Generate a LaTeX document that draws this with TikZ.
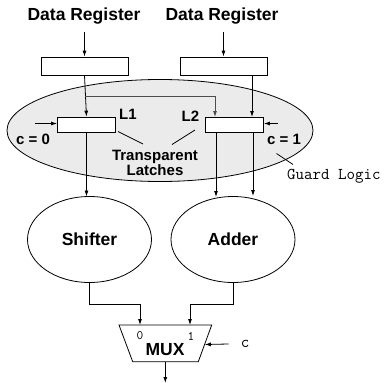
\documentclass[tikz,border=0pt]{standalone}
\usepackage{fontspec}
\setmainfont{Liberation Sans}
\usetikzlibrary{arrows.meta,shapes.geometric}

\tikzset{
  wire/.style={line width=0.8pt, -{Latex[length=6pt,width=4pt]}},
  plain/.style={line width=0.8pt},
  regbox/.style={draw, line width=0.8pt, fill=white, minimum width=87pt, minimum height=18pt, inner sep=0pt},
  latchbox/.style={draw, line width=0.8pt, fill=white, minimum width=58pt, minimum height=15pt, inner sep=0pt},
  unit/.style={draw, line width=0.8pt, ellipse, minimum width=124pt, minimum height=86pt, inner sep=0pt},
  bigtxt/.style={font=\fontsize{17.5}{20}\selectfont\bfseries, inner sep=0pt},
  midtxt/.style={font=\fontsize{15}{17}\selectfont\bfseries, inner sep=0pt},
  monotxt/.style={font=\ttfamily\fontsize{16.5}{18}\selectfont, inner sep=0pt},
  porttxt/.style={font=\ttfamily\fontsize{13}{13}\selectfont, inner sep=0pt},
}

\begin{document}
\begin{tikzpicture}[x=1pt,y=-1pt]
\useasboundingbox (0,0) rectangle (384,383);

% guard logic region
\node (guard) [draw, line width=0.8pt, fill=black!8, ellipse, minimum width=306pt, minimum height=102pt, inner sep=0pt] at (160,130.5) {};

% data registers
\node (dl) [bigtxt] at (84,16) {Data Register};
\node (dr) [bigtxt] at (222,16) {Data Register};
\coordinate (dlo) at (84.5,32);
\coordinate (dro) at (223.5,32);
\node (rl) [regbox] at (84.5,66) {};
\node (rr) [regbox] at (223.5,66) {};

% transparent latches
\node (l1) [latchbox] at (86.5,124.5) {};
\node (l2) [latchbox] at (234.5,124.5) {};
\node (l1t) [midtxt] at (128,114) {L1};
\node (l2t) [midtxt] at (190.5,116) {L2};
\node (c0) [midtxt] at (33,139) {c = 0};
\node (c1) [midtxt] at (284,139) {c = 1};
\node (tl) [midtxt, align=center, font=\fontsize{15}{15}\selectfont\bfseries] at (155,162.5) {Transparent\\Latches};
\node (gl) [monotxt, anchor=west] at (287,176) {Guard Logic};

\coordinate (c0in) at (35,123.5);
\coordinate (c1in) at (278,123.5);

% functional units
\node (sh) [unit] at (89.5,239.5) {};
\node (ad) [unit] at (233,239.5) {};
\node [bigtxt] at (sh.center) {Shifter};
\node [bigtxt] at (ad.center) {Adder};

% multiplexer outline
\coordinate (mtl) at (119,325);
\coordinate (mtr) at (211.7,325);
\coordinate (mbr) at (198.3,361.7);
\coordinate (mbl) at (132.7,361.7);
\draw[plain, line join=miter] (mtl) -- (mtr) -- (mbr) -- (mbl) -- cycle;
\coordinate (min0) at (140,325);
\coordinate (min1) at (190,325);
\coordinate (msel) at (204.8,344.5);
\coordinate (mout) at (165.3,361.7);
\node (muxt) [bigtxt] at (165,350) {MUX};
\node (p0) [porttxt] at (140,336) {0};
\node (p1) [porttxt] at (191,336) {1};
\node (csel) [monotxt] at (245,344) {c};
\coordinate (out) at (165.3,383);

% input wiring
\draw[wire] (dlo) -- (rl.north);
\draw[wire] (dro) -- (rr.north);
\draw[wire] (rl.south) -- (l1.north);
\draw[wire, draw=black!70] (85,96) -| (215,117);
\draw[wire] (252,75) -- (252,117);

% latch controls
\draw[wire] (c0in) -- (l1.west |- c0in);
\draw[wire] (c1in) -- (l2.east |- c1in);

% callouts
\draw[plain] (118,131.5) -- (143,144);
\draw[plain] (195,130) -- (172,144.5);
\draw[plain] (293,164.5) -- (276.5,153.5);

% latch outputs
\draw[wire] (86.5,132) -- (86.5,196.5);
\draw[wire] (216,132) -- (216,197);
\draw[wire] (253,132) -- (253,196);

% unit outputs to mux
\draw[wire] (sh.south) |- (140,304) -- (min0);
\draw[wire] (ad.south) |- (190,304) -- (min1);
\draw[wire] (csel.west) ++(-12,0) -- (msel);
\draw[wire] (mout) -- (out);
\end{tikzpicture}
\end{document}
